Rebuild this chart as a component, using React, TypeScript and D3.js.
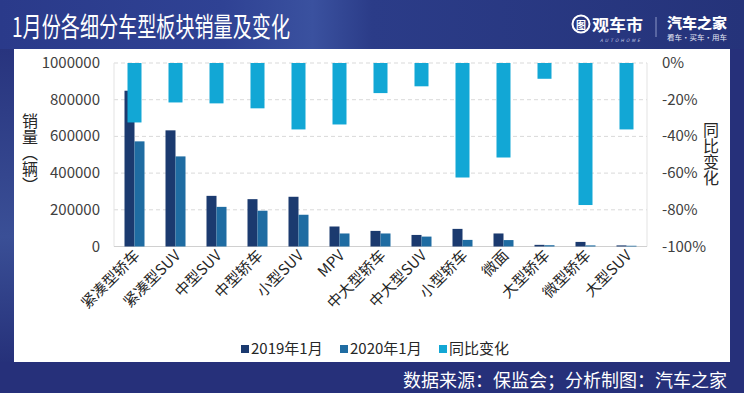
import { scaleBand, scaleLinear } from "d3";

const categories = [
  "紧凑型轿车",
  "紧凑型SUV",
  "中型SUV",
  "中型轿车",
  "小型SUV",
  "MPV",
  "中大型轿车",
  "中大型SUV",
  "小型轿车",
  "微面",
  "大型轿车",
  "微型轿车",
  "大型SUV"
];
const sales2019 = [849000, 633000, 276000, 258000, 271000, 109000, 85000, 63000, 96000, 71000, 9000, 25000, 6000];
const sales2020 = [573000, 491000, 216000, 195000, 173000, 71000, 71000, 54000, 36000, 35000, 7000, 6000, 4000];
const yoyChange = [-32.4, -21.5, -22, -24.7, -36.2, -33.5, -16.4, -12.7, -62.4, -51.5, -8.6, -77.4, -36.2];
const leftTicks = [0, 200000, 400000, 600000, 800000, 1000000];
const rightTicks = [0, -20, -40, -60, -80, -100];
const seriesNames = ["2019年1月", "2020年1月", "同比变化"];

const width = 744;
const height = 393;
const plotLeft = 114;
const plotRight = 647;
const plotTop = 63;
const plotBottom = 246.5;

const colors = ["#1b3a6f", "#1f6ca2", "#12a7d5"];
const font = "'Noto Sans CJK SC', 'Noto Sans', sans-serif";

export default function App(): React.JSX.Element {
  const x = scaleBand<string>().domain(categories).range([plotLeft, plotRight]);
  const ySales = scaleLinear().domain([0, 1000000]).range([plotBottom, plotTop]);
  const yPct = scaleLinear().domain([-100, 0]).range([plotBottom, plotTop]);
  const barW = 10;
  const pctW = 14;

  return (
    <div style={{ position: "fixed", left: 0, top: 0 }}>
      <svg width={width} height={height} style={{ display: "block" }} fontFamily={font}>
        <defs>
          <linearGradient id="titleBg" x1="0" x2="1" y1="0" y2="0">
            <stop offset="0" stopColor="#2a3a8a" />
            <stop offset="0.3" stopColor="#2f4294" />
            <stop offset="0.42" stopColor="#3a519f" />
            <stop offset="0.5" stopColor="#2b3c88" />
            <stop offset="1" stopColor="#25337a" />
          </linearGradient>
          <linearGradient id="sideBg" x1="0" x2="0" y1="0" y2="1">
            <stop offset="0" stopColor="#28347e" />
            <stop offset="0.6" stopColor="#3a4f96" />
            <stop offset="1" stopColor="#26317a" />
          </linearGradient>
        </defs>
        <rect width={width} height={height} fill="#26307a" />
        <rect width={width} height={49} fill="url(#titleBg)" />
        <rect x={0} y={49} width={14} height={313} fill="url(#sideBg)" />
        <rect x={14} y={49} width={716} height={313} fill="#ffffff" />

        <text x={12} y={37} fill="#ffffff" fontSize={27} textLength={278} lengthAdjust="spacingAndGlyphs">
          1月份各细分车型板块销量及变化
        </text>

        {/* logos */}
        <circle cx={581} cy={24} r={8.5} fill="none" stroke="#ffffff" strokeWidth={2} />
        <text x={581} y={28.5} fill="#ffffff" fontSize={10} fontWeight={700} textAnchor="middle">
          图
        </text>
        <text x={592} y={31} fill="#ffffff" fontSize={16} fontWeight={700} textLength={51} lengthAdjust="spacingAndGlyphs">
          观车市
        </text>
        <text x={600} y={41.5} fill="#c9d0ea" fontSize={4.5} fontStyle="italic" textLength={40} lengthAdjust="spacing">
          AUTOHOME
        </text>
        <line x1={656} x2={656} y1={17} y2={37} stroke="#8c97c8" strokeWidth={1} />
        <text x={667} y={28} fill="#ffffff" fontSize={14} fontWeight={900} textLength={60} lengthAdjust="spacingAndGlyphs">
          汽车之家
        </text>
        <text x={667} y={40} fill="#e6e9f5" fontSize={7} textLength={60} lengthAdjust="spacingAndGlyphs">
          看车·买车·用车
        </text>

        {/* grid */}
        {leftTicks.slice(1).map((t) => (
          <line
            key={`g${t}`}
            x1={plotLeft}
            x2={plotRight}
            y1={ySales(t)}
            y2={ySales(t)}
            stroke="#d9d9d9"
            strokeDasharray="4 3"
          />
        ))}
        <line x1={plotLeft} x2={plotLeft} y1={plotTop} y2={plotBottom} stroke="#e3e3e3" />
        <line x1={plotRight} x2={plotRight} y1={plotTop} y2={plotBottom} stroke="#e3e3e3" />
        <line x1={plotLeft} x2={plotRight} y1={plotBottom} y2={plotBottom} stroke="#d0d0d0" />

        {/* bars */}
        {categories.map((c, i) => {
          const cx = (x(c) ?? 0) + x.bandwidth() / 2;
          return (
            <g key={c}>
              <rect
                x={cx - barW}
                y={ySales(sales2019[i])}
                width={barW}
                height={plotBottom - ySales(sales2019[i])}
                fill={colors[0]}
              />
              <rect
                x={cx}
                y={ySales(sales2020[i])}
                width={barW}
                height={plotBottom - ySales(sales2020[i])}
                fill={colors[1]}
              />
              <rect
                x={cx - pctW / 2}
                y={yPct(0)}
                width={pctW}
                height={yPct(yoyChange[i]) - yPct(0)}
                fill={colors[2]}
              />
            </g>
          );
        })}

        {/* axes labels */}
        {leftTicks.map((t) => (
          <text key={`l${t}`} x={100} y={ySales(t) + 5} fontSize={15} fill="#404040" textAnchor="end">
            {t}
          </text>
        ))}
        {rightTicks.map((t) => (
          <text key={`r${t}`} x={662} y={yPct(t) + 5} fontSize={15} fill="#404040">
            {`${t}%`}
          </text>
        ))}
        <text x={30} y={113} fontSize={16} fill="#262626" style={{ writingMode: "vertical-rl" }}>
          销量（辆）
        </text>
        <text x={711} y={122} fontSize={16} fill="#262626" style={{ writingMode: "vertical-rl" }}>
          同比变化
        </text>

        {/* category labels */}
        {categories.map((c) => {
          const cx = (x(c) ?? 0) + x.bandwidth() / 2 + 6;
          return (
            <text
              key={`c${c}`}
              transform={`translate(${cx},${plotBottom + 10}) rotate(-45)`}
              textAnchor="end"
              fontSize={15}
              fill="#262626"
            >
              {c}
            </text>
          );
        })}

        {/* legend */}
        {seriesNames.map((name, i) => {
          const lx = [241, 340, 439][i];
          return (
            <g key={name}>
              <rect x={lx} y={345} width={8} height={8} fill={colors[i]} />
              <text x={lx + 10} y={354} fontSize={15} fill="#262626">
                {name}
              </text>
            </g>
          );
        })}

        <text x={727} y={387} fontSize={18} fill="#ffffff" textAnchor="end">
          数据来源：保监会；分析制图：汽车之家
        </text>
      </svg>
    </div>
  );
}
